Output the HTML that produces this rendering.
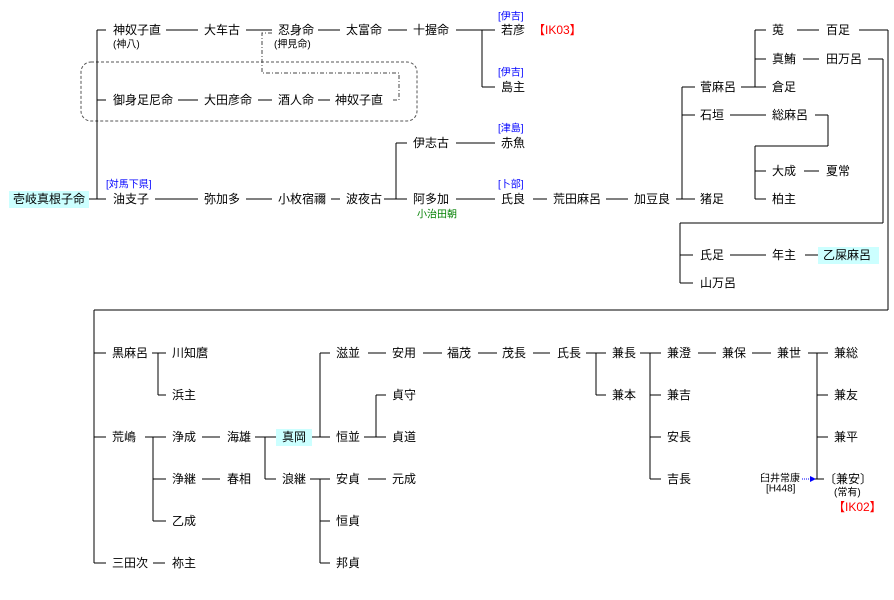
<!DOCTYPE html>
<html><head><meta charset="utf-8"><style>
html,body{margin:0;padding:0;background:#fff;}
svg{display:block;}
text{font-family:"Liberation Sans","Noto Sans CJK JP",sans-serif;font-size:12px;fill:#000;dominant-baseline:central;}
.s{font-size:10px;}
.b{fill:#0000ff;font-size:10px;}
.r{fill:#ff0000;}
.g{fill:#008000;font-size:10px;}
line,polyline{stroke:#000;stroke-width:1.1;fill:none;shape-rendering:crispEdges;}
</style></head><body>
<svg width="894" height="600" xmlns="http://www.w3.org/2000/svg">
<rect x="9" y="191" width="80" height="17" fill="#ccffff"/>
<rect x="818" y="247" width="61" height="17" fill="#ccffff"/>
<rect x="276" y="429" width="36" height="17" fill="#ccffff"/>
<rect x="81" y="62" width="336" height="59" rx="10" ry="10" fill="none" stroke="#555" stroke-width="1" stroke-dasharray="3,2"/>
<polyline points="272,33 262,33 262,73 399,73 399,100 391,100" style="stroke:#444;stroke-width:1;stroke-dasharray:4,2,1,2"/>

<text x="113" y="30">神奴子直</text><text x="204" y="30">大车古</text><text x="278" y="30">忍身命</text><text x="346" y="30">太富命</text><text x="413" y="30">十握命</text>
<text x="501" y="30">若彦</text><text x="533" y="30" class="r">【IK03】</text>
<text x="113" y="45" class="s">(神八)</text><text x="274" y="45" class="s">(押見命)</text>
<text x="498" y="17" class="b">[伊吉]</text><text x="498" y="73" class="b">[伊吉]</text><text x="501" y="87">島主</text>
<text x="113" y="100">御身足尼命</text><text x="204" y="100">大田彦命</text><text x="278" y="100">酒人命</text><text x="335" y="100">神奴子直</text>
<text x="413" y="143">伊志古</text><text x="498" y="129" class="b">[津島]</text><text x="501" y="143">赤魚</text>
<text x="13" y="199">壱岐真根子命</text><text x="106" y="185" class="b">[対馬下県]</text>
<text x="113" y="199">油支子</text><text x="204" y="199">弥加多</text><text x="278" y="199">小枚宿禰</text><text x="346" y="199">波夜古</text><text x="413" y="199">阿多加</text><text x="417" y="215" class="g">小治田朝</text>
<text x="498" y="185" class="b">[卜部]</text><text x="501" y="199">氏良</text><text x="553" y="199">荒田麻呂</text><text x="634" y="199">加豆良</text><text x="700" y="199">猪足</text>
<text x="700" y="87">菅麻呂</text><text x="700" y="115">石垣</text>
<text x="772" y="30">莵</text><text x="826" y="30">百足</text><text x="772" y="59">真鮪</text><text x="826" y="59">田万呂</text><text x="772" y="87">倉足</text>
<text x="772" y="115">総麻呂</text><text x="772" y="171">大成</text><text x="826" y="171">夏常</text><text x="772" y="199">柏主</text>
<text x="700" y="255">氏足</text><text x="772" y="255">年主</text><text x="823" y="255">乙屎麻呂</text><text x="700" y="283">山万呂</text>

<text x="112" y="353">黒麻呂</text><text x="172" y="353">川知麿</text><text x="172" y="395">浜主</text>
<text x="112" y="437">荒嶋</text><text x="172" y="437">浄成</text><text x="227" y="437">海雄</text><text x="282" y="437">真岡</text>
<text x="172" y="479">浄継</text><text x="227" y="479">春相</text><text x="172" y="521">乙成</text><text x="282" y="479">浪継</text>
<text x="112" y="563">三田次</text><text x="172" y="563">祢主</text>
<text x="336" y="353">滋並</text><text x="392" y="353">安用</text><text x="447" y="353">福茂</text><text x="502" y="353">茂長</text><text x="557" y="353">氏長</text><text x="612" y="353">兼長</text><text x="667" y="353">兼澄</text><text x="722" y="353">兼保</text><text x="777" y="353">兼世</text><text x="834" y="353">兼総</text>
<text x="392" y="395">貞守</text><text x="336" y="437">恒並</text><text x="392" y="437">貞道</text>
<text x="336" y="479">安貞</text><text x="392" y="479">元成</text><text x="336" y="521">恒貞</text><text x="336" y="563">邦貞</text>
<text x="612" y="395">兼本</text><text x="667" y="395">兼吉</text><text x="667" y="437">安長</text><text x="667" y="479">吉長</text>
<text x="834" y="395">兼友</text><text x="834" y="437">兼平</text><text x="824" y="479">〔兼安〕</text><text x="834" y="493" class="s">(常有)</text><text x="833" y="507" class="r">【IK02】</text>
<text x="760" y="479" class="s">臼井常康</text><text x="766" y="489" class="s">[H448]</text>
<line x1="802" y1="479" x2="812" y2="479" style="stroke:#0000ff;stroke-width:1;stroke-dasharray:1,1"/>
<polygon points="810,476 816,479 810,482" fill="#0000ff"/>

<g>
<line x1="97" y1="30" x2="97" y2="199"/>
<line x1="97" y1="30" x2="106" y2="30"/><line x1="166" y1="30" x2="198" y2="30"/><line x1="246" y1="30" x2="272" y2="30"/><line x1="318" y1="30" x2="340" y2="30"/><line x1="388" y1="30" x2="407" y2="30"/><line x1="456" y1="30" x2="495" y2="30"/>
<line x1="482" y1="30" x2="482" y2="87"/><line x1="482" y1="87" x2="495" y2="87"/>
<line x1="97" y1="100" x2="106" y2="100"/><line x1="178" y1="100" x2="198" y2="100"/><line x1="258" y1="100" x2="272" y2="100"/><line x1="318" y1="100" x2="330" y2="100"/>
<line x1="396" y1="143" x2="396" y2="199"/><line x1="396" y1="143" x2="407" y2="143"/><line x1="456" y1="143" x2="495" y2="143"/>
<line x1="89" y1="199" x2="106" y2="199"/><line x1="155" y1="199" x2="198" y2="199"/><line x1="246" y1="199" x2="272" y2="199"/><line x1="331" y1="199" x2="340" y2="199"/><line x1="384" y1="199" x2="407" y2="199"/><line x1="456" y1="199" x2="495" y2="199"/><line x1="533" y1="199" x2="547" y2="199"/><line x1="606" y1="199" x2="628" y2="199"/><line x1="676" y1="199" x2="695" y2="199"/>
<line x1="682" y1="87" x2="682" y2="199"/><line x1="682" y1="87" x2="695" y2="87"/><line x1="682" y1="115" x2="695" y2="115"/>
<line x1="741" y1="87" x2="766" y2="87"/><line x1="755" y1="30" x2="755" y2="87"/><line x1="755" y1="30" x2="766" y2="30"/><line x1="755" y1="59" x2="766" y2="59"/>
<line x1="797" y1="30" x2="819" y2="30"/><line x1="859" y1="30" x2="888" y2="30"/><line x1="888" y1="30" x2="888" y2="310"/>
<line x1="803" y1="59" x2="819" y2="59"/><line x1="868" y1="59" x2="883" y2="59"/><line x1="883" y1="59" x2="883" y2="223"/>
<line x1="730" y1="115" x2="766" y2="115"/><line x1="815" y1="115" x2="828" y2="115"/><line x1="828" y1="115" x2="828" y2="146"/><line x1="755" y1="146" x2="828" y2="146"/><line x1="755" y1="146" x2="755" y2="199"/>
<line x1="755" y1="171" x2="766" y2="171"/><line x1="804" y1="171" x2="819" y2="171"/><line x1="755" y1="199" x2="766" y2="199"/>
<line x1="680" y1="223" x2="883" y2="223"/><line x1="680" y1="223" x2="680" y2="283"/><line x1="680" y1="255" x2="693" y2="255"/><line x1="680" y1="283" x2="693" y2="283"/>
<line x1="730" y1="255" x2="766" y2="255"/><line x1="805" y1="255" x2="818" y2="255"/>

<line x1="94" y1="310" x2="888" y2="310"/><line x1="94" y1="310" x2="94" y2="563"/>
<line x1="94" y1="353" x2="106" y2="353"/><line x1="94" y1="437" x2="106" y2="437"/><line x1="94" y1="563" x2="106" y2="563"/>
<line x1="152" y1="353" x2="166" y2="353"/><line x1="158" y1="353" x2="158" y2="395"/><line x1="158" y1="395" x2="166" y2="395"/>
<line x1="145" y1="437" x2="166" y2="437"/><line x1="153" y1="437" x2="153" y2="521"/><line x1="153" y1="479" x2="166" y2="479"/><line x1="153" y1="521" x2="166" y2="521"/>
<line x1="202" y1="437" x2="220" y2="437"/><line x1="202" y1="479" x2="220" y2="479"/>
<line x1="255" y1="437" x2="276" y2="437"/><line x1="265" y1="437" x2="265" y2="479"/><line x1="265" y1="479" x2="276" y2="479"/>
<line x1="312" y1="437" x2="330" y2="437"/><line x1="320" y1="353" x2="320" y2="437"/><line x1="320" y1="353" x2="330" y2="353"/>
<line x1="368" y1="353" x2="386" y2="353"/><line x1="423" y1="353" x2="442" y2="353"/><line x1="478" y1="353" x2="497" y2="353"/><line x1="533" y1="353" x2="550" y2="353"/><line x1="586" y1="353" x2="606" y2="353"/><line x1="640" y1="353" x2="661" y2="353"/><line x1="698" y1="353" x2="716" y2="353"/><line x1="752" y1="353" x2="771" y2="353"/><line x1="808" y1="353" x2="828" y2="353"/>
<line x1="596" y1="353" x2="596" y2="395"/><line x1="596" y1="395" x2="606" y2="395"/>
<line x1="650" y1="353" x2="650" y2="479"/><line x1="650" y1="395" x2="661" y2="395"/><line x1="650" y1="437" x2="661" y2="437"/><line x1="650" y1="479" x2="661" y2="479"/>
<line x1="817" y1="353" x2="817" y2="479"/><line x1="817" y1="395" x2="828" y2="395"/><line x1="817" y1="437" x2="828" y2="437"/><line x1="815" y1="479" x2="824" y2="479"/>
<line x1="364" y1="437" x2="386" y2="437"/><line x1="376" y1="395" x2="376" y2="437"/><line x1="376" y1="395" x2="386" y2="395"/>
<line x1="310" y1="479" x2="330" y2="479"/><line x1="320" y1="479" x2="320" y2="563"/><line x1="320" y1="521" x2="330" y2="521"/><line x1="320" y1="563" x2="330" y2="563"/>
<line x1="368" y1="479" x2="386" y2="479"/><line x1="153" y1="563" x2="165" y2="563"/>
</g>
</svg>
</body></html>
